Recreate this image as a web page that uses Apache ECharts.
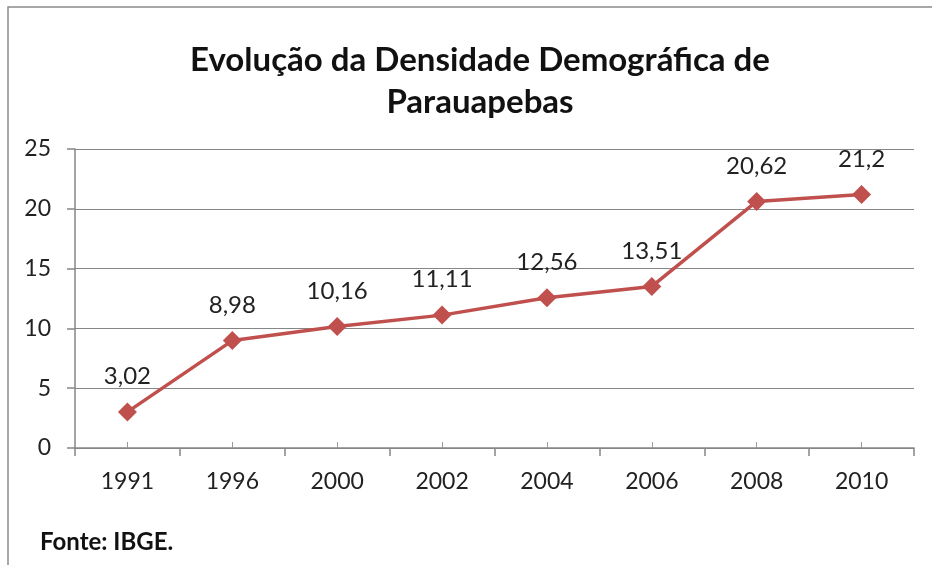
<!DOCTYPE html>
<html><head><meta charset="utf-8">
<script src="https://cdn.jsdelivr.net/npm/echarts@6/dist/echarts.min.js"></script>
<style>html,body{margin:0;padding:0;background:#fff}#c{width:932px;height:565px}</style>
</head><body><div id="c"></div>
<script>
var categories = ['1991','1996','2000','2002','2004','2006','2008','2010'];
var density = [3.02, 8.98, 10.16, 11.11, 12.56, 13.51, 20.62, 21.2];
var yTicks = [0, 5, 10, 15, 20, 25];
var titleText = 'Evolução da Densidade Demográfica de\nParauapebas';
var sourceText = 'Fonte: IBGE.';

var chart = echarts.init(document.getElementById('c'), null, {renderer: 'canvas'});
var font = 'Lato, "Open Sans", sans-serif';
chart.setOption({
  animation: false,
  backgroundColor: '#fff',
  title: {
    text: titleText, left: 475, top: 34, textAlign: 'center',
    textStyle: {fontFamily: font, fontWeight: 'bold', fontSize: 33, color: '#111', lineHeight: 42}
  },
  graphic: [
    {type: 'rect', shape: {x: 8, y: 7, width: 1000, height: 700}, style: {fill: null, stroke: '#8a8a8a', lineWidth: 1.5}, silent: true, z: -1},
    {type: 'text', left: 40, top: 530, style: {text: sourceText, font: 'bold 24px ' + font, fill: '#111'}}
  ],
  grid: {left: 75, right: 18, top: 149, bottom: 117, containLabel: false},
  xAxis: [{
    type: 'category', data: categories, boundaryGap: true,
    axisLine: {lineStyle: {color: '#868686', width: 1.5}},
    axisTick: {show: true, alignWithLabel: false, length: 8, lineStyle: {color: '#868686', width: 1.5}},
    axisLabel: {fontFamily: font, fontSize: 23, color: '#222', margin: 22}
  }, {
    type: 'category', data: categories, boundaryGap: true, position: 'bottom',
    axisLine: {show: false},
    axisTick: {show: true, inside: true, alignWithLabel: true, length: 6, lineStyle: {color: '#9a9a9a', width: 1}},
    axisLabel: {show: false}
  }],
  yAxis: {
    type: 'value', min: yTicks[0], max: yTicks[yTicks.length - 1], interval: 5,
    axisLine: {show: true, lineStyle: {color: '#868686', width: 1.5}},
    axisTick: {show: true, length: 8, lineStyle: {color: '#868686', width: 1.5}},
    axisLabel: {fontFamily: font, fontSize: 23, color: '#222', margin: 24},
    splitLine: {lineStyle: {color: '#868686', width: 1.2}}
  },
  series: [{
    type: 'line', data: density, xAxisIndex: 0,
    symbol: 'diamond', symbolSize: 19,
    lineStyle: {color: '#C0504D', width: 3.5},
    itemStyle: {color: '#C0504D'},
    label: {
      show: true, position: 'top', distance: 14,
      fontFamily: font, fontSize: 24, color: '#222',
      formatter: function (p) { return String(p.value).replace('.', ','); }
    }
  }]
});
</script></body></html>
